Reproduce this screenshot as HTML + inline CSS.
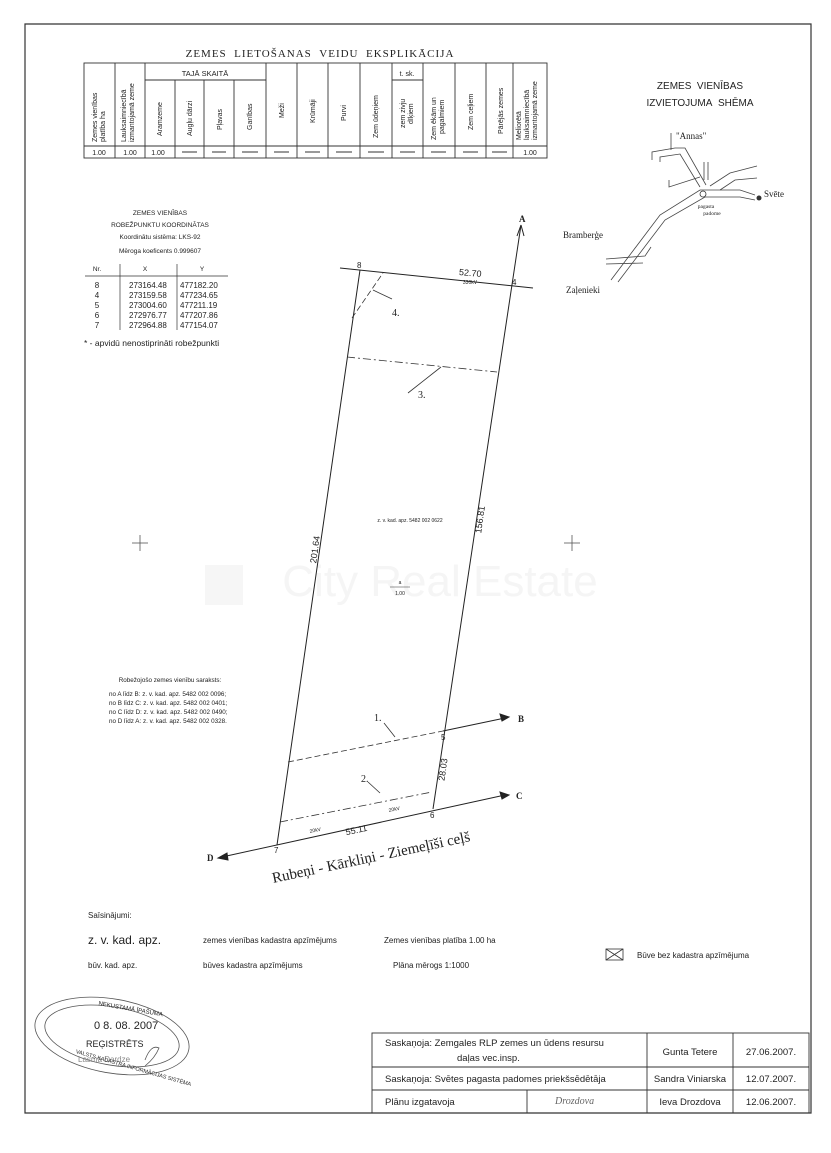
<!DOCTYPE html>
<html><head><meta charset="utf-8"><style>
html,body{margin:0;padding:0;background:#fff}
svg{display:block}
text{font-family:"Liberation Sans",sans-serif;fill:#222}
.s{font-family:"Liberation Serif",serif}
</style></head><body>
<svg width="831" height="1153" viewBox="0 0 831 1153" xmlns="http://www.w3.org/2000/svg">
<g stroke="#333" stroke-width="1.2" fill="none">
<path d="M25 24 H811 V1113 H25 Z"/>
</g>
<text x="320" y="57" class="s" font-size="11" text-anchor="middle" letter-spacing="1">ZEMES&#160;&#160;LIETOŠANAS&#160;&#160;VEIDU&#160;&#160;EKSPLIKĀCIJA</text>
<g stroke="#333" stroke-width="0.9" fill="none">
<rect x="84" y="63" width="463" height="95"/>
<line x1="84" y1="146" x2="547" y2="146"/>
<line x1="145" y1="80" x2="266" y2="80"/>
<line x1="392" y1="80" x2="423" y2="80"/>
<line x1="115" y1="63" x2="115" y2="158"/><line x1="145" y1="63" x2="145" y2="158"/>
<line x1="175" y1="80" x2="175" y2="158"/><line x1="204" y1="80" x2="204" y2="158"/>
<line x1="234" y1="80" x2="234" y2="158"/><line x1="266" y1="63" x2="266" y2="158"/>
<line x1="297" y1="63" x2="297" y2="158"/><line x1="328" y1="63" x2="328" y2="158"/>
<line x1="360" y1="63" x2="360" y2="158"/><line x1="392" y1="63" x2="392" y2="158"/>
<line x1="423" y1="63" x2="423" y2="158"/><line x1="455" y1="63" x2="455" y2="158"/>
<line x1="486" y1="63" x2="486" y2="158"/><line x1="513" y1="63" x2="513" y2="158"/>
</g>
<text x="205" y="76" font-size="7.5" text-anchor="middle">TAJĀ SKAITĀ</text>
<text x="407" y="76" font-size="7" text-anchor="middle">t. sk.</text>
<g font-size="7">
<text transform="translate(97,142) rotate(-90)">Zemes vienības</text>
<text transform="translate(105,142) rotate(-90)">platība ha</text>
<text transform="translate(126,142) rotate(-90)">Lauksaimniecībā</text>
<text transform="translate(134,142) rotate(-90)">izmantojamā zeme</text>
<text transform="translate(162,136) rotate(-90)">Aramzeme</text>
<text transform="translate(192,136) rotate(-90)">Augļu dārzi</text>
<text transform="translate(222,130) rotate(-90)">Pļavas</text>
<text transform="translate(252,130) rotate(-90)">Ganības</text>
<text transform="translate(284,118) rotate(-90)">Meži</text>
<text transform="translate(315,123) rotate(-90)">Krūmāji</text>
<text transform="translate(346,121) rotate(-90)">Purvi</text>
<text transform="translate(378,138) rotate(-90)">Zem ūdeņiem</text>
<text transform="translate(405,128) rotate(-90)">zem zivju</text>
<text transform="translate(413,124) rotate(-90)">dīķiem</text>
<text transform="translate(436,140) rotate(-90)">Zem ēkām un</text>
<text transform="translate(444,134) rotate(-90)">pagalmiem</text>
<text transform="translate(473,130) rotate(-90)">Zem ceļiem</text>
<text transform="translate(503,134) rotate(-90)">Pārējās zemes</text>
<text transform="translate(521,140) rotate(-90)">Meliorētā</text>
<text transform="translate(529,140) rotate(-90)">lauksaimniecībā</text>
<text transform="translate(537,140) rotate(-90)">izmantojamā zeme</text>
</g>
<g font-size="7">
<text x="99" y="155" text-anchor="middle">1.00</text>
<text x="130" y="155" text-anchor="middle">1.00</text>
<text x="158" y="155" text-anchor="middle">1.00</text>
<text x="530" y="155" text-anchor="middle">1.00</text>
</g>
<g stroke="#333" stroke-width="1">
<line x1="182" y1="152" x2="197" y2="152"/><line x1="212" y1="152" x2="226" y2="152"/><line x1="242" y1="152" x2="258" y2="152"/>
<line x1="274" y1="152" x2="289" y2="152"/><line x1="305" y1="152" x2="320" y2="152"/><line x1="336" y1="152" x2="352" y2="152"/>
<line x1="368" y1="152" x2="384" y2="152"/><line x1="400" y1="152" x2="415" y2="152"/><line x1="431" y1="152" x2="446" y2="152"/>
<line x1="463" y1="152" x2="478" y2="152"/><line x1="492" y1="152" x2="507" y2="152"/>
</g>
<text x="700" y="89" font-size="10" text-anchor="middle">ZEMES&#160;&#160;VIENĪBAS</text>
<text x="700" y="106" font-size="10" text-anchor="middle">IZVIETOJUMA&#160;&#160;SHĒMA</text>
<g stroke="#444" stroke-width="0.8" fill="none">
<path d="M611 280 L660 215 L700 190 L740 190 L755 195"/>
<path d="M618 282 L665 220 L705 197 L740 197 L755 200"/>
<path d="M606 259 L645 256 L651 247"/><path d="M606 264 L643 263"/>
<path d="M652 160 L652 152 L675 148 L685 148 L706 185"/>
<path d="M660 162 L660 157 L680 154 L700 187"/>
<path d="M669 180 L669 187 L700 177"/><path d="M704 162 L704 180"/><path d="M708 162 L708 180"/>
<path d="M710 186 L730 173 L757 166"/><path d="M720 190 L735 180 L757 178"/>
<path d="M671 133 L671 150"/>
</g>
<circle cx="703" cy="194" r="3" fill="none" stroke="#333" stroke-width="0.8"/>
<circle cx="759" cy="198" r="2.5" fill="#333"/>
<g class="s" font-size="9">
<text x="676" y="139" class="s">"Annas"</text>
<text x="764" y="197" class="s">Svēte</text>
<text x="563" y="238" class="s">Bramberģe</text>
<text x="566" y="293" class="s">Zaļenieki</text>
</g>
<text x="706" y="208" font-size="5.5" text-anchor="middle" class="s">pagasta</text>
<text x="712" y="215" font-size="5.5" text-anchor="middle" class="s">padome</text>
<g font-size="6.5" text-anchor="middle">
<text x="160" y="215">ZEMES VIENĪBAS</text>
<text x="160" y="227">ROBEŽPUNKTU KOORDINĀTAS</text>
<text x="160" y="239">Koordinātu sistēma: LKS-92</text>
<text x="160" y="253">Mēroga koeficents 0.999607</text>
<text x="97" y="271">Nr.</text><text x="145" y="271">X</text><text x="202" y="271">Y</text>
</g>
<g stroke="#333" stroke-width="0.7"><line x1="85" y1="276" x2="228" y2="276"/><line x1="120" y1="264" x2="120" y2="330"/><line x1="177" y1="264" x2="177" y2="330"/></g>
<g font-size="8">
<text x="97" y="288" text-anchor="middle">8</text><text x="129" y="288">273164.48</text><text x="180" y="288">477182.20</text>
<text x="97" y="298" text-anchor="middle">4</text><text x="129" y="298">273159.58</text><text x="180" y="298">477234.65</text>
<text x="97" y="308" text-anchor="middle">5</text><text x="129" y="308">273004.60</text><text x="180" y="308">477211.19</text>
<text x="97" y="318" text-anchor="middle">6</text><text x="129" y="318">272976.77</text><text x="180" y="318">477207.86</text>
<text x="97" y="328" text-anchor="middle">7</text><text x="129" y="328">272964.88</text><text x="180" y="328">477154.07</text>
</g>
<text x="84" y="346" font-size="8.5">* - apvidū nenostiprināti robežpunkti</text>
<text x="440" y="596" font-size="44" style="fill:#f5f5f5" text-anchor="middle">City Real Estate</text>
<rect x="205" y="565" width="38" height="40" fill="#f6f6f6"/>
<g stroke="#555" stroke-width="0.8"><line x1="132" y1="543" x2="148" y2="543"/><line x1="140" y1="535" x2="140" y2="551"/>
<line x1="564" y1="543" x2="580" y2="543"/><line x1="572" y1="535" x2="572" y2="551"/></g>
<g stroke="#222" stroke-width="1" fill="none">
<line x1="360" y1="270" x2="277" y2="845"/>
<line x1="521" y1="225" x2="433" y2="809"/>
<line x1="340" y1="268" x2="533" y2="288"/>
<line x1="443" y1="731" x2="505" y2="718"/>
<line x1="222" y1="857" x2="505" y2="795"/>
<path d="M521 225 L517 236 M521 225 L524 236"/>
<path d="M509 717 L500 714 L502 721 Z" fill="#222"/>
<path d="M509 795 L500 792 L502 799 Z" fill="#222"/>
<path d="M218 858 L227 853 L228 860 Z" fill="#222"/>
</g>
<g stroke="#333" stroke-width="0.8" fill="none">
<line x1="288" y1="762" x2="443" y2="731" stroke-dasharray="6,3"/>
<line x1="280" y1="822" x2="432" y2="792" stroke-dasharray="8,3,2,3"/>
<line x1="347" y1="357" x2="497" y2="372" stroke-dasharray="8,3,2,3"/>
<line x1="352" y1="318" x2="383" y2="273" stroke-dasharray="6,3"/>
<path d="M408 393 L441 367"/><path d="M392 299 L373 290"/><path d="M384 723 L395 737"/><path d="M368 782 L380 793"/>
</g>
<g font-size="10" class="s">
<text x="418" y="398" class="s">3.</text><text x="392" y="316" class="s">4.</text>
<text x="374" y="721" class="s">1.</text><text x="361" y="782" class="s">2.</text>
</g>
<g font-size="8">
<text x="357" y="268">8</text><text x="512" y="285">4</text><text x="441" y="740">5</text><text x="430" y="818">6</text><text x="274" y="853">7</text>
</g>
<text x="470" y="276" font-size="9" text-anchor="middle" transform="rotate(5 470 276)">52.70</text>
<text x="470" y="284" font-size="5" text-anchor="middle">330kV</text>
<text x="483" y="520" font-size="9" text-anchor="middle" transform="rotate(-82 483 520)">156.81</text>
<text x="318" y="550" font-size="9" text-anchor="middle" transform="rotate(-82 318 550)">201.64</text>
<text x="446" y="770" font-size="9" text-anchor="middle" transform="rotate(-82 446 770)">28.03</text>
<text x="357" y="833" font-size="9" text-anchor="middle" transform="rotate(-12 357 833)">55.11</text>
<text x="310" y="833" font-size="5" transform="rotate(-12 310 833)">20kV</text>
<text x="389" y="812" font-size="5" transform="rotate(-12 389 812)">20kV</text>
<g font-size="9" font-weight="bold" class="s"><text x="519" y="222" class="s">A</text><text x="518" y="722" class="s">B</text><text x="516" y="799" class="s">C</text><text x="207" y="861" class="s">D</text></g>
<text x="410" y="522" font-size="5" text-anchor="middle">z. v. kad. apz. 5482 002 0622</text>
<text x="400" y="584" font-size="5" text-anchor="middle">a</text>
<line x1="390" y1="587" x2="410" y2="587" stroke="#333" stroke-width="0.6"/>
<text x="400" y="595" font-size="5" text-anchor="middle">1.00</text>
<text x="372" y="862" class="s" font-size="15" text-anchor="middle" transform="rotate(-12 372 862)">Rubeņi - Kārkliņi - Ziemeļīši ceļš</text>
<g font-size="6.3">
<text x="170" y="682" text-anchor="middle">Robežojošo zemes vienību saraksts:</text>
<text x="109" y="696">no A līdz B: z. v. kad. apz. 5482 002 0096;</text>
<text x="109" y="705">no B līdz C: z. v. kad. apz. 5482 002 0401;</text>
<text x="109" y="714">no C līdz D: z. v. kad. apz. 5482 002 0490;</text>
<text x="109" y="723">no D līdz A: z. v. kad. apz. 5482 002 0328.</text>
</g>
<text x="88" y="918" font-size="8">Saīsinājumi:</text>
<text x="88" y="944" font-size="12">z. v. kad. apz.</text>
<text x="203" y="943" font-size="8">zemes vienības kadastra apzīmējums</text>
<text x="384" y="943" font-size="8">Zemes vienības platība 1.00 ha</text>
<text x="88" y="968" font-size="8">būv. kad. apz.</text>
<text x="203" y="968" font-size="8">būves kadastra apzīmējums</text>
<text x="393" y="968" font-size="8">Plāna mērogs 1:1000</text>
<g stroke="#333" stroke-width="0.8" fill="none"><rect x="606" y="949" width="17" height="11"/><path d="M606 949 L623 960 M623 949 L606 960"/></g>
<text x="637" y="958" font-size="8">Būve bez kadastra apzīmējuma</text>
<g stroke="#555" stroke-width="0.8" fill="none">
<ellipse cx="112" cy="1036" rx="78" ry="37" transform="rotate(10 112 1036)"/>
<ellipse cx="112" cy="1036" rx="68" ry="29" transform="rotate(10 112 1036)"/>
<path d="M145 1060 q6 -16 14 -12 q-4 10 -14 18"/>
</g>
<g fill="#444" font-size="8">
<text x="98" y="1008" font-size="6" transform="rotate(10 115 1008)">NEKUSTAMĀ ĪPAŠUMA</text>
<text x="94" y="1029" font-size="11">0 8. 08. 2007</text>
<text x="86" y="1047" font-size="9">REĢISTRĒTS</text>
<text x="78" y="1062" font-size="8" style="fill:#888">Lasma Dardze</text>
<text x="72" y="1066" font-size="5.5" transform="rotate(16 120 1072)">VALSTS KADASTRA INFORMĀCIJAS SISTĒMA</text>
</g>
<g stroke="#333" stroke-width="0.9" fill="none">
<rect x="372" y="1033" width="437" height="80"/>
<line x1="372" y1="1067" x2="809" y2="1067"/><line x1="372" y1="1090" x2="809" y2="1090"/>
<line x1="647" y1="1033" x2="647" y2="1113"/><line x1="733" y1="1033" x2="733" y2="1113"/>
<line x1="527" y1="1090" x2="527" y2="1113"/>
</g>
<g font-size="9.5">
<text x="385" y="1046">Saskaņoja: Zemgales RLP zemes un ūdens resursu</text>
<text x="457" y="1061">daļas vec.insp.</text>
<text x="690" y="1055" text-anchor="middle">Gunta Tetere</text>
<text x="771" y="1055" text-anchor="middle">27.06.2007.</text>
<text x="385" y="1082">Saskaņoja: Svētes pagasta padomes priekšsēdētāja</text>
<text x="690" y="1082" text-anchor="middle">Sandra Viniarska</text>
<text x="771" y="1082" text-anchor="middle">12.07.2007.</text>
<text x="385" y="1105">Plānu izgatavoja</text>
<text x="690" y="1105" text-anchor="middle">Ieva Drozdova</text>
<text x="771" y="1105" text-anchor="middle">12.06.2007.</text>
</g>
<text x="555" y="1104" class="s" font-size="10" font-style="italic" style="fill:#666">Drozdova</text>
</svg>
</body></html>
